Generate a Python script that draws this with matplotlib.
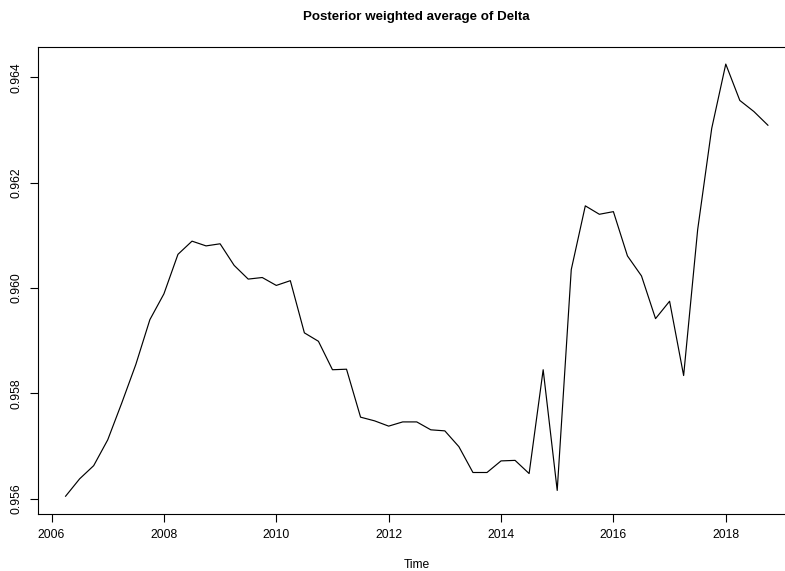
import matplotlib
matplotlib.use("Agg")
import matplotlib.pyplot as plt
import numpy as np

plt.rcParams['font.family'] = ['Liberation Sans', 'DejaVu Sans']

start_year = 2006.25
freq = 4
delta = [0.95605, 0.95638, 0.95663, 0.95712, 0.95782, 0.95855, 0.95940, 0.95989,
         0.96064, 0.96089, 0.96080, 0.96084, 0.96043, 0.96017, 0.96020, 0.96005,
         0.96014, 0.95915, 0.95899, 0.95845, 0.95846, 0.95755, 0.95748, 0.95738,
         0.95746, 0.95746, 0.95731, 0.95729, 0.95699, 0.95650, 0.95650, 0.95672,
         0.95673, 0.95648, 0.95845, 0.95616, 0.96035, 0.96156, 0.96140, 0.96145,
         0.96061, 0.96023, 0.95942, 0.95975, 0.95834, 0.96111, 0.96303, 0.96425,
         0.96356, 0.96335, 0.96309]
time = start_year + np.arange(len(delta)) / freq

xticks = [2006, 2008, 2010, 2012, 2014, 2016, 2018]
yticks = [0.956, 0.958, 0.960, 0.962, 0.964]
title = "Posterior weighted average of Delta"
xlabel = "Time"

W, H = 785, 571
fig = plt.figure(figsize=(W / 100, H / 100), dpi=100)
left, right, top, bottom = 37.5, 796, 46.8, 513.5
ax = fig.add_axes([left / W, (H - bottom) / H, (right - left) / W, (bottom - top) / H])

ax.plot(time, delta, color='black', lw=0.85)

xr = time[-1] - time[0]
ax.set_xlim(time[0] - 0.04 * xr, time[-1] + 0.04 * xr)
yr = max(delta) - min(delta)
ax.set_ylim(min(delta) - 0.04 * yr, max(delta) + 0.04 * yr)

ax.set_xticks(xticks)
ax.set_xticklabels([str(x) for x in xticks])
ax.set_yticks(yticks)
ax.set_yticklabels([f"{y:.3f}" for y in yticks], rotation=90, va='center')

ax.tick_params(axis='both', length=5.5, width=0.8, labelsize=8.7, color='black')
ax.tick_params(axis='x', pad=6)
ax.tick_params(axis='y', pad=5)
for s in ax.spines.values():
    s.set_linewidth(0.8)

fig.text((left + right) / 2 / W, 1 - 17 / H, title, ha='center', va='center',
         fontsize=9.6, fontweight='bold')
fig.text((left + right) / 2 / W, 1 - 565 / H, xlabel, ha='center', va='center',
         fontsize=8.7)

fig.savefig("out.png", dpi=100)
